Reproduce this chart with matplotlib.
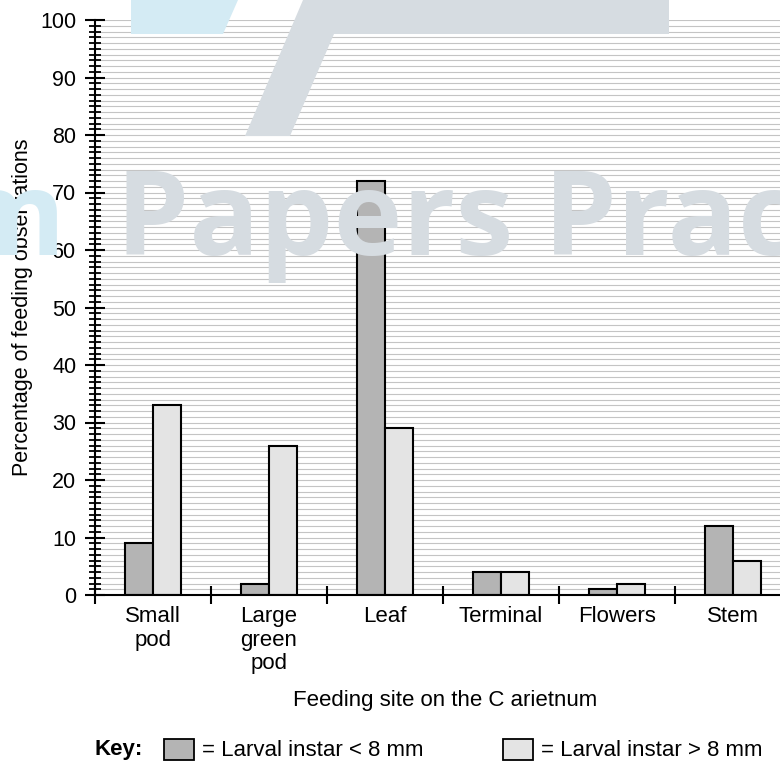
import matplotlib.pyplot as plt
from matplotlib.patches import Polygon, Rectangle
import numpy as np

plt.rcParams['font.family'] = ['Liberation Sans', 'DejaVu Sans']

# Données
sites = ["Small\npod", "Large\ngreen\npod", "Leaf", "Terminal", "Flowers", "Stem"]
small_larvae = [9, 2, 72, 4, 1, 12]     # Larval instar < 8 mm
large_larvae = [33, 26, 29, 4, 2, 6]    # Larval instar > 8 mm
y_major = list(range(0, 101, 10))

dark = "#b4b4b4"
light = "#e4e4e4"

W, H = 780, 763
fig = plt.figure(figsize=(W / 100, H / 100), dpi=100)

# Filigrane (approximation)
def px(x, y):
    return (x / W, 1 - y / H)

wm_gray = "#d6dce1"
wm_blue = "#d4ebf4"
fig.patches.append(Polygon([px(131, 0), px(238, 0), px(223, 34), px(131, 34)],
                           closed=True, transform=fig.transFigure,
                           facecolor=wm_blue, edgecolor="none", zorder=0))
fig.patches.append(Polygon([px(303, 0), px(669, 0), px(669, 34), px(334, 34),
                            px(290, 136), px(245, 136)],
                           closed=True, transform=fig.transFigure,
                           facecolor=wm_gray, edgecolor="none", zorder=0))
fig.text(66 / W, 1 - 255 / H, "Exam", ha="right", va="baseline", fontsize=84,
         fontweight="bold", color=wm_blue, family="Open Sans", zorder=0)
fig.text(116 / W, 1 - 255 / H, "Papers Practice", ha="left", va="baseline",
         fontsize=84, fontweight="bold", color=wm_gray, family="Open Sans", zorder=0)

ax = fig.add_axes([95 / W, 1 - 595 / H, 685 / W, 575 / H])
ax.set_facecolor("none")

x = np.arange(len(sites)) + 0.5
bw = 0.24
ax.bar(x - bw / 2, small_larvae, bw, color=dark, edgecolor="black", linewidth=1.5, zorder=3)
ax.bar(x + bw / 2, large_larvae, bw, color=light, edgecolor="black", linewidth=1.5, zorder=3)

# Grille fine
for v in range(1, 101):
    ax.axhline(v, color="#c4c4c4", linewidth=0.8, zorder=1)

for s in ["top", "right"]:
    ax.spines[s].set_visible(False)
ax.spines["left"].set_linewidth(1.5)
ax.spines["bottom"].set_linewidth(1.5)
ax.spines["left"].set_zorder(4)
ax.spines["bottom"].set_zorder(4)

ax.set_yticks(y_major)
ax.set_yticks(range(0, 101), minor=True)
ax.tick_params(axis="y", which="major", direction="inout", length=15, width=1.5,
               labelsize=15.5, pad=6)
ax.tick_params(axis="y", which="minor", direction="inout", length=8, width=1.3)

ax.set_xticks(x)
ax.set_xticklabels(sites, fontsize=16, linespacing=1.15)
ax.set_xticks(range(0, 6), minor=True)
ax.tick_params(axis="x", which="major", length=0, pad=8)
ax.tick_params(axis="x", which="minor", direction="inout", length=13, width=1.5)

ax.set_xlim(0, 685 / 116)
ax.set_ylim(0, 100)

ax.set_ylabel("Percentage of feeding observations", fontsize=15.5)
ax.yaxis.set_label_coords(-0.09, 0.5)
ax.set_xlabel("Feeding site on the C arietnum", fontsize=16)
ax.xaxis.set_label_coords(0.511, -0.166)

# Légende
ky = 1 - 750 / H
fig.text(95 / W, ky, "Key:", fontsize=16, fontweight="bold", va="center")
fig.patches.append(Rectangle(px(164, 760), 30 / W, 21 / H, transform=fig.transFigure,
                             facecolor=dark, edgecolor="black", linewidth=1.3))
fig.text(202 / W, ky, "= Larval instar < 8 mm", fontsize=16, va="center")
fig.patches.append(Rectangle(px(503, 760), 30 / W, 21 / H, transform=fig.transFigure,
                             facecolor=light, edgecolor="black", linewidth=1.3))
fig.text(541 / W, ky, "= Larval instar > 8 mm", fontsize=16, va="center")

plt.savefig("out.png", dpi=100)
plt.close()
